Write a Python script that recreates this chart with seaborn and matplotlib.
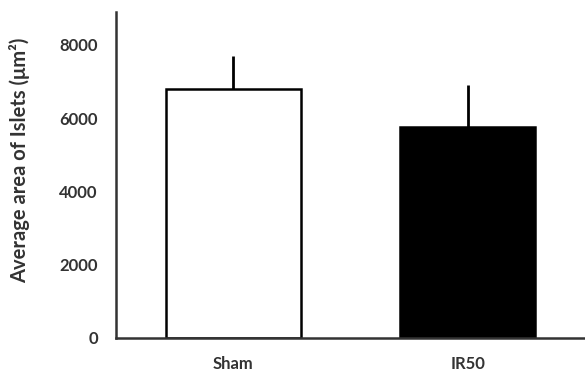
import matplotlib
matplotlib.use("Agg")
import matplotlib.pyplot as plt
import seaborn as sns
import pandas as pd

groups = ["Sham", "IR50"]
mean_area = [6800, 5750]
sd_area = [900, 1150]
bar_colors = ["white", "black"]

sns.set_style("white")
plt.rcParams["font.family"] = ["Lato", "DejaVu Sans"]

df = pd.DataFrame({"group": groups, "area": mean_area})

fig = plt.figure(figsize=(5.85, 3.75), dpi=100)
ax = fig.add_axes([0.198, 0.099, 0.802, 0.869])

sns.barplot(
    data=df, x="group", y="area", hue="group", palette=bar_colors,
    order=groups, hue_order=groups, errorbar=None, legend=False,
    width=0.576, edgecolor="black", linewidth=1.8, ax=ax,
)
# upper-only error bars (SD), no caps
ax.errorbar(range(len(groups)), mean_area, yerr=[[0] * len(groups), sd_area],
            fmt="none", ecolor="black", elinewidth=2, capsize=0, zorder=0)

ax.set_xlim(-0.5, 1.5)
ax.set_ylim(0, 8900)
ax.set_yticks([0, 2000, 4000, 6000, 8000])
ax.set_xlabel("")
ax.set_ylabel("Average area of Islets (\u03bcm\u00b2)", fontsize=14.5,
              fontweight="bold", color="#333333")
ax.yaxis.set_label_coords(-0.182, 0.546)
ax.tick_params(axis="y", length=0, pad=13, labelsize=12, labelcolor="#333333")
ax.tick_params(axis="x", length=0, pad=13, labelsize=12, labelcolor="#333333")
for lab in ax.get_xticklabels() + ax.get_yticklabels():
    lab.set_fontweight("bold")

sns.despine(ax=ax, top=True, right=True)
for side in ["left", "bottom"]:
    ax.spines[side].set_color("#333333")
    ax.spines[side].set_linewidth(1.8)

fig.savefig("out.png", dpi=100)
plt.close("all")
